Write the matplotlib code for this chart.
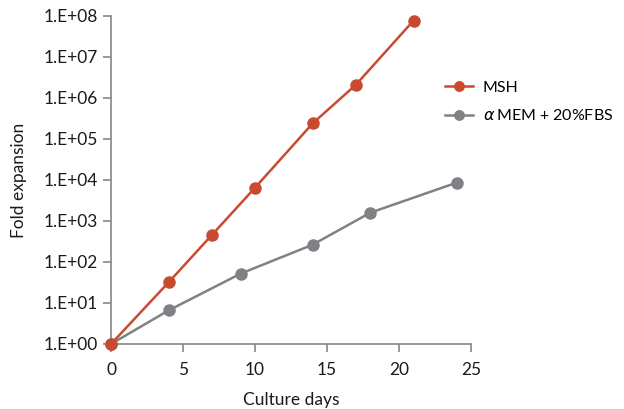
import numpy as np
import matplotlib
matplotlib.use("Agg")
import matplotlib.pyplot as plt

plt.rcParams['font.family'] = ['Lato', 'DejaVu Sans']

# Culture days and fold expansion values
msh_days = [0, 4, 7, 10, 14, 17, 21]
msh_fold = [1, 32, 455, 6500, 2.4e5, 2.1e6, 7.7e7]

mem_days = [0, 4, 9, 14, 18, 24]
mem_fold = [1, 6.6, 52, 264, 1590, 8600]

y_ticks = [10.0 ** k for k in range(0, 9)]
y_labels = ["1.E+%02d" % k for k in range(0, 9)]
x_ticks = [0, 5, 10, 15, 20, 25]

red = '#C84B31'
grey = '#808184'
axis_col = '#858585'
text_col = '#1a1a1a'

fig = plt.figure(figsize=(6.24, 4.09), dpi=100)
ax = fig.add_axes([0.178, 0.159, 0.577, 0.802])

ax.plot(msh_days, msh_fold, color=red, lw=1.8, marker='o', ms=8,
        label='MSH', clip_on=False, zorder=3)
ax.plot(mem_days, mem_fold, color=grey, lw=1.8, marker='o', ms=8,
        label=r'$\alpha\,$MEM + 20%FBS', clip_on=False, zorder=2)

ax.set_yscale('log')
ax.set_ylim(1, 1e8)
ax.set_xlim(0, 25)
ax.set_yticks(y_ticks)
ax.set_yticklabels(y_labels)
ax.minorticks_off()
ax.set_xticks(x_ticks)

for side in ['top', 'right']:
    ax.spines[side].set_visible(False)
for side in ['left', 'bottom']:
    ax.spines[side].set_color(axis_col)
    ax.spines[side].set_linewidth(1.2)
ax.tick_params(axis='both', colors=axis_col, length=6, width=1.2,
               labelcolor=text_col, labelsize=12.5)
ax.tick_params(axis='x', pad=7)

ax.set_xlabel('Culture days', fontsize=12.5, color=text_col, labelpad=10)
ax.set_ylabel('Fold expansion', fontsize=12.5, color=text_col, labelpad=12)

fig.legend(loc='upper left', bbox_to_anchor=(0.713, 0.803), frameon=False,
           fontsize=11.5, handlelength=1.75, handletextpad=0.63,
           labelspacing=0.85, borderaxespad=0, borderpad=0, markerscale=0.85)

fig.savefig('out.png', dpi=100)
